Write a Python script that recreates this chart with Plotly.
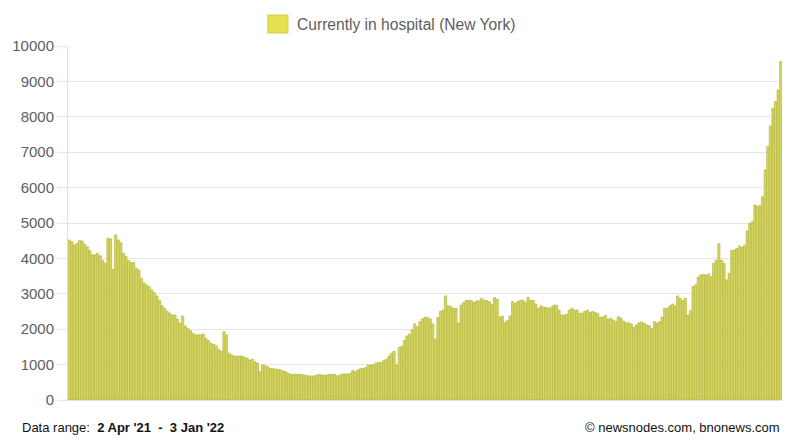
import pandas as pd
import plotly.graph_objects as go

start_date = "2021-04-02"
end_date = "2022-01-03"

seg_apr_jun = [4520, 4470, 4380, 4420, 4500, 4490, 4400, 4330, 4220, 4100,
               4100, 4140, 4070, 3940, 3860, 4570, 4550, 3690, 4660, 4520,
               4440, 4140, 4050, 3940, 3880, 3880, 3720, 3670, 3440, 3310,
               3250, 3200, 3110, 3030, 2940, 2820, 2660, 2590, 2500, 2450,
               2400, 2400, 2280, 2170, 2370, 2090, 2020, 1960, 1880, 1840,
               1840, 1840, 1860, 1740, 1680, 1600, 1570, 1530, 1430, 1370,
               1930, 1840, 1320, 1270, 1240, 1240]
seg_jun_aug = [1240, 1240, 1210, 1180, 1130, 1150, 1080, 1040, 800, 990,
               970, 940, 890, 890, 870, 870, 850, 820, 800, 750,
               725, 725, 725, 725, 725, 705, 690, 680, 680, 680,
               705, 725, 705, 705, 705, 725, 725, 725, 680, 705,
               735, 735, 735, 750, 830, 800, 850, 885, 885, 920,
               980, 990, 990, 1040, 1060, 1060, 1110, 1150, 1240, 1320,
               1370, 990, 1490, 1510, 1680, 1810, 1860, 1980, 2150, 2070]
seg_aug_oct = [2210, 2290, 2330, 2330, 2290, 2150, 1720, 2330, 2500, 2540,
               2940, 2660, 2640, 2590, 2590, 2180, 2680, 2750, 2810, 2810,
               2810, 2750, 2800, 2800, 2870, 2820, 2810, 2770, 2700, 2890,
               2850, 2350, 2370, 2180, 2240, 2370, 2780, 2730, 2780, 2820,
               2820, 2760, 2900, 2810, 2810, 2710, 2590, 2660, 2620, 2620,
               2590, 2620, 2680, 2680, 2540, 2400, 2400, 2420, 2540, 2590,
               2540, 2540, 2450, 2450, 2500, 2540, 2470, 2500, 2470, 2450]
seg_oct_jan = [2340, 2340, 2390, 2280, 2310, 2260, 2210, 2350, 2310, 2230,
               2180, 2180, 2150, 2050, 2120, 2180, 2200, 2170, 2120, 2100,
               2020, 2210, 2170, 2210, 2340, 2590, 2590, 2660, 2710, 2660,
               2940, 2870, 2810, 2870, 2400, 2520, 3200, 3250, 3470, 3530,
               3550, 3530, 3560, 3480, 3860, 3940, 4410, 3950, 3860, 3390,
               3580, 4220, 4240, 4280, 4350, 4310, 4370, 4780, 4990, 5040,
               5510, 5480, 5490, 5740, 6500, 7160, 7740, 8240, 8430, 8760,
               9560]

hospitalized = seg_apr_jun + seg_jun_aug + seg_aug_oct + seg_oct_jan
dates = pd.date_range(start_date, end_date, freq="D")
assert len(dates) == len(hospitalized)

y_ticks = [0, 1000, 2000, 3000, 4000, 5000, 6000, 7000, 8000, 9000, 10000]
series_name = "Currently in hospital (New York)"

font_family = "Liberation Sans, Arial, sans-serif"

fig = go.Figure()
fig.add_trace(go.Bar(
    x=dates,
    y=hospitalized,
    name=series_name,
    showlegend=False,
    marker=dict(color="#d8d862", line=dict(color="#b2b43c", width=0.7)),
))

# the page body adds an 8px offset, so margins are shifted to compensate
fig.update_layout(
    width=800, height=442,
    margin=dict(l=60, r=26, t=38, b=50, autoexpand=False),
    paper_bgcolor="white",
    plot_bgcolor="white",
    bargap=0.16,
    font=dict(family=font_family, color="#666666", size=15),
    showlegend=False,
    xaxis=dict(
        range=[dates[0] - pd.Timedelta(hours=12), dates[-1] + pd.Timedelta(hours=12)],
        showticklabels=False,
        showgrid=False,
        showline=True, linecolor="#e0e0e0", linewidth=1,
        ticks="",
        zeroline=False,
        automargin=False,
    ),
    yaxis=dict(
        range=[0, 10000],
        tickvals=y_ticks,
        ticktext=[str(v) for v in y_ticks],
        showgrid=True, gridcolor="#e6e6e6", gridwidth=1,
        showline=True, linecolor="#e0e0e0", linewidth=1,
        ticks="outside", ticklen=10, tickcolor="#e6e6e6",
        tickfont=dict(size=15, color="#5e5e5e"),
        zeroline=False,
        automargin=False,
    ),
)

# legend swatch and label
fig.add_shape(
    type="rect", xref="paper", yref="paper",
    x0=0.280, x1=0.308, y0=1.0367, y1=1.0876,
    fillcolor="#e4e150", line=dict(color="#cfcc45", width=1),
)
fig.add_annotation(
    xref="paper", yref="paper", x=0.3179, y=1.062, xanchor="left", yanchor="middle",
    text=series_name, showarrow=False,
    font=dict(size=15.6, color="#5e5e5e", family=font_family),
)

fig.add_annotation(
    xref="paper", yref="paper", x=-0.0672, y=-0.079, xanchor="left", yanchor="middle",
    text="Data range:  <b>2 Apr '21  -  3 Jan '22</b>",
    showarrow=False, font=dict(size=13, color="#111111", family=font_family),
)
fig.add_annotation(
    xref="paper", yref="paper", x=1.0, y=-0.079, xanchor="right", yanchor="middle",
    text="© newsnodes.com, bnonews.com",
    showarrow=False, font=dict(size=13, color="#111111", family=font_family),
)

fig.write_html("out.html")
